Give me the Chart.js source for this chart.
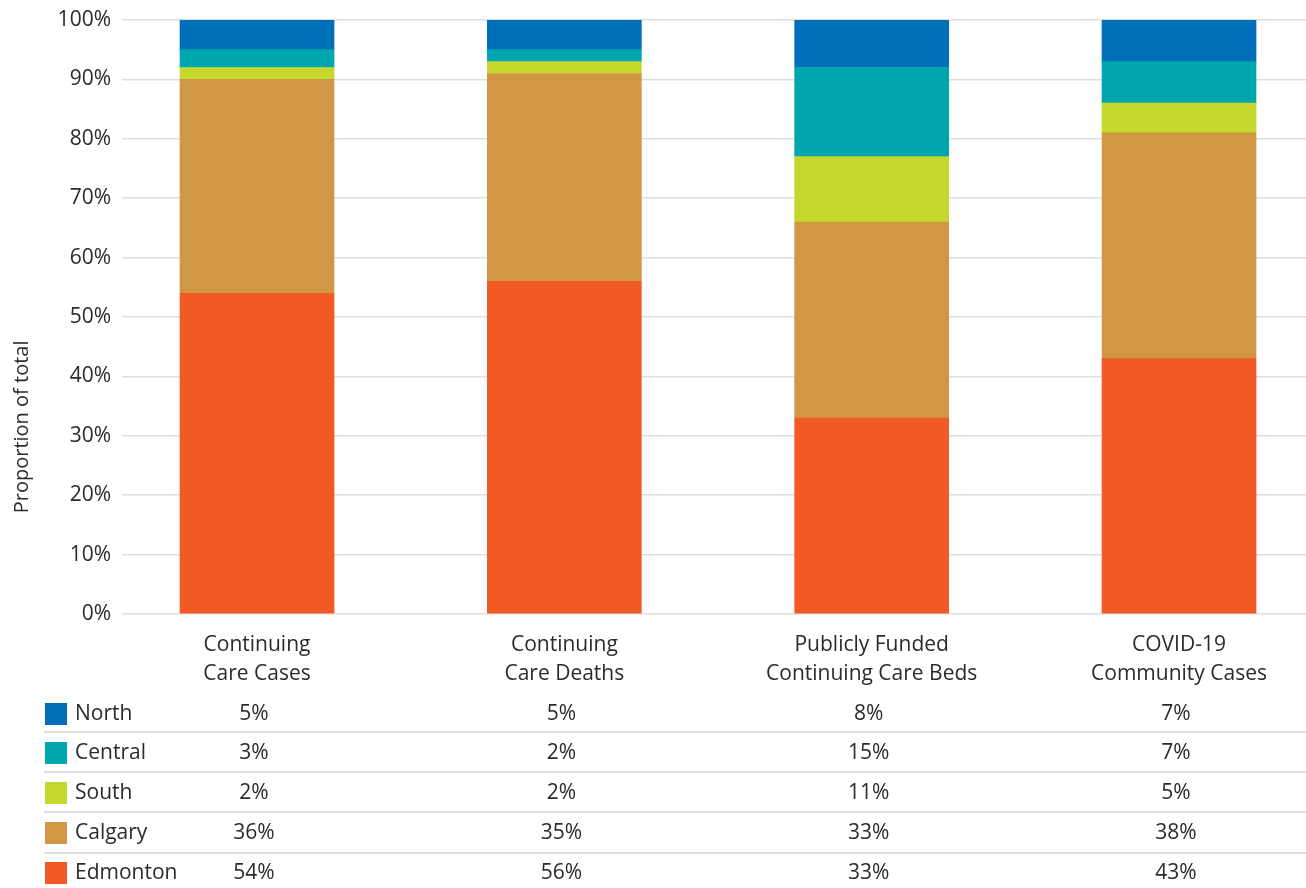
<!DOCTYPE html>
<html>
<head>
<meta charset="utf-8">
<title>Proportion of total by zone</title>
<script src="https://cdn.jsdelivr.net/npm/chart.js@4/dist/chart.umd.min.js"></script>
<style>
  html, body { margin: 0; padding: 0; background: #fff; overflow: hidden; }
  #wrap { width: 1306px; height: 888px; }
</style>
</head>
<body>
<div id="wrap"><canvas id="chart" width="1306" height="888"></canvas></div>
<script>
// categories along the x axis (multi-line labels)
const categories = [
    ["Continuing", "Care Cases"],
    ["Continuing", "Care Deaths"],
    ["Publicly Funded", "Continuing Care Beds"],
    ["COVID-19", "Community Cases"]
];

// share of total per zone, in percent
const edmonton = [54, 56, 33, 43];
const calgary = [36, 35, 33, 38];
const south = [2, 2, 11, 5];
const central = [3, 2, 15, 7];
const north = [5, 5, 8, 7];

const yTickValues = [0, 10, 20, 30, 40, 50, 60, 70, 80, 90, 100];

const FONT = "'Open Sans', sans-serif";
const TEXT = "#2b2b2b";

// stacking order bottom -> top
const series = [
    { label: "Edmonton", data: edmonton, color: "#F15A24" },
    { label: "Calgary", data: calgary, color: "#D29744" },
    { label: "South", data: south, color: "#C5D82E" },
    { label: "Central", data: central, color: "#00A6AE" },
    { label: "North", data: north, color: "#006FBA" }
];

// table under the chart, top row first
const tableRows = series.slice().reverse();

const tablePlugin = {
    id: "zoneTable",
    afterDraw(chart) {
        const ctx = chart.ctx;
        const xs = chart.scales.x;
        const ys = chart.scales.y;
        const rowY = [714, 753, 793, 833, 873];
        const lineY = [732, 772, 812, 853];

        ctx.save();

        // y axis title, sitting a bit below the middle of the axis
        ctx.save();
        ctx.translate(22, ys.getPixelForValue(31.5));
        ctx.rotate(-Math.PI / 2);
        ctx.font = "20px " + FONT;
        ctx.fillStyle = TEXT;
        ctx.textAlign = "center";
        ctx.textBaseline = "middle";
        ctx.fillText("Proportion of total", 0, 0);
        ctx.restore();

        ctx.strokeStyle = "#d4d4d4";
        ctx.lineWidth = 1.5;
        lineY.forEach(y => {
            ctx.beginPath();
            ctx.moveTo(44, y);
            ctx.lineTo(chart.width, y);
            ctx.stroke();
        });

        ctx.font = "21px " + FONT;
        ctx.textBaseline = "middle";
        tableRows.forEach((row, r) => {
            const y = rowY[r];
            ctx.fillStyle = row.color;
            ctx.fillRect(45, y - 11, 22, 22);

            ctx.fillStyle = TEXT;
            ctx.textAlign = "left";
            ctx.fillText(row.label, 75, y);

            ctx.textAlign = "center";
            row.data.forEach((v, i) => {
                ctx.fillText(v + "%", xs.getPixelForValue(i) - 3, y);
            });
        });
        ctx.restore();
    }
};

const ctx = document.getElementById("chart").getContext("2d");

new Chart(ctx, {
    type: "bar",
    data: {
        datasets: series.map(s => ({
            label: s.label,
            data: s.data.map((v, i) => ({ x: i, y: v })),
            backgroundColor: s.color,
            borderWidth: 0,
            barThickness: 154
        }))
    },
    options: {
        responsive: false,
        animation: false,
        layout: { padding: { top: 20, right: 0, bottom: 0, left: 0 } },
        plugins: {
            legend: { display: false },
            tooltip: { enabled: false }
        },
        scales: {
            x: {
                type: "linear",
                stacked: true,
                offset: false,
                min: -0.4393,
                max: 3.4132,
                grid: { display: false },
                border: { display: false },
                afterBuildTicks: axis => {
                    axis.ticks = categories.map((c, i) => ({ value: i }));
                },
                afterFit: axis => { axis.height = 274; },
                ticks: {
                    autoSkip: false,
                    maxRotation: 0,
                    padding: 9,
                    color: TEXT,
                    font: { family: FONT, size: 21, lineHeight: 1.35 },
                    callback: value => categories[value] || ""
                }
            },
            y: {
                stacked: true,
                min: 0,
                max: 100,
                afterBuildTicks: axis => {
                    axis.ticks = yTickValues.map(v => ({ value: v }));
                },
                afterFit: axis => {
                    axis.width = 122;
                    axis.paddingTop = 0;
                    axis.paddingBottom = 0;
                },
                grid: { color: "#dedede", lineWidth: 1.5, drawTicks: false },
                border: { display: false },
                ticks: {
                    padding: 11,
                    color: TEXT,
                    font: { family: FONT, size: 21, lineHeight: 1 },
                    callback: value => value + "%"
                }
            }
        }
    },
    plugins: [tablePlugin]
});
</script>
</body>
</html>
